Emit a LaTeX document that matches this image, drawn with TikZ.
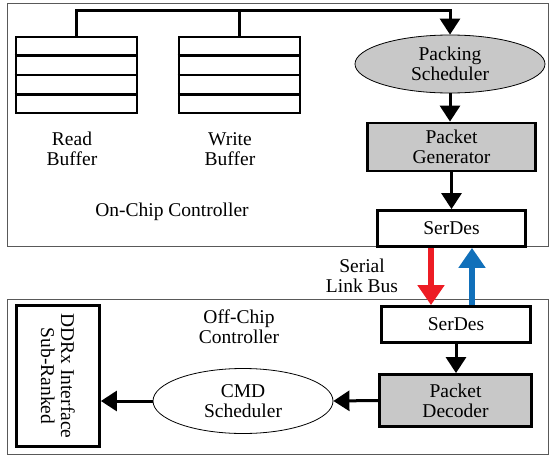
\documentclass[tikz,border=0pt]{standalone}
\usepackage{fontspec}
\setmainfont{Liberation Serif}
\usetikzlibrary{arrows.meta,shapes.geometric,calc}
\definecolor{boxgray}{HTML}{C8C8C8}
\definecolor{busred}{HTML}{ED1C24}
\definecolor{busblue}{HTML}{1170BA}
\begin{document}
\begin{tikzpicture}[x=1pt,y=-1pt,
  every node/.style={font=\fontsize{19.5}{20}\selectfont, align=center, inner sep=0pt},
  container/.style={draw=black!65, line width=1pt},
  blk/.style={draw=black, line width=2.8pt, rectangle},
  buf/.style={draw=black, line width=2.8pt, rectangle, minimum width=121pt, minimum height=76pt},
  ell/.style={ellipse, draw=black, line width=0.8pt},
  arr/.style={line width=3pt, -{Triangle[width=20pt,length=16pt]}},
  busarr/.style={line width=5.5pt, -{Triangle[width=26pt,length=20pt]}}
]
\useasboundingbox (0,0) rectangle (549,458);
% containers
\draw[container] (7,3) rectangle (548,246);
\draw[container] (7,299) rectangle (548,454);

% buffers
\node[buf] (rb) at (76.5,75) {};
\node[buf] (wb) at (239.5,75) {};
\foreach \b in {rb,wb}
  \foreach \f in {0.25,0.5,0.75}
    \draw[line width=2.8pt] ($(\b.north west)!\f!(\b.south west)$) -- ($(\b.north east)!\f!(\b.south east)$);
\node (rbl) at (72,149) {Read\\Buffer};
\node (wbl) at (230,149) {Write\\Buffer};
\node (onl) at (172,212) {On-Chip Controller};

% right column, on-chip
\node[ell, fill=boxgray, minimum width=190pt, minimum height=58pt] (ps) at (450,64) {Packing\\Scheduler};
\node[blk, fill=boxgray, minimum width=168pt, minimum height=48pt] (pg) at (451.5,147) {Packet\\Generator};
\node[blk, minimum width=148pt, minimum height=36pt] (sa) at (451.5,228.5) {SerDes};

% off-chip
\node[blk, minimum width=149pt, minimum height=36pt] (sb) at (456,324.5) {SerDes};
\node[blk, fill=boxgray, minimum width=152pt, minimum height=52pt] (pd) at (455.5,400.5) {Packet\\Decoder};
\node[ell, minimum width=180pt, minimum height=65pt] (cmd) at (243,401) {CMD\\Scheduler};
\node[blk, rotate=-90, minimum width=141pt, minimum height=83pt] (ddr) at (58,376) {DDRx Interface\\Sub-Ranked};
\node (bus) at (362,276) {Serial\\Link Bus};
\node (offl) at (239,327) {Off-Chip\\Controller};

% connectors
\draw[arr] (rb.north) -- ++(0,-25) -| (ps.north);
\draw[line width=3pt] (wb.north) -- ++(0,-25);
\draw[arr] (ps.south) -- (ps.south |- pg.north);
\draw[arr] (pg.south) -- (sa.north);
\draw[busarr, busred] ([xshift=-20.5pt]sa.south) -- ([xshift=-20.5pt]sa.south |- sb.north);
\draw[busarr, busblue] ([xshift=20.5pt]sa.south |- sb.north) -- ([xshift=20.5pt]sa.south);
\draw[arr] (sb.south) -- (sb.south |- pd.north);
\draw[arr] (pd.west) -- (cmd.east);
\draw[arr] (cmd.west) -- (cmd.west -| ddr.north);
\end{tikzpicture}
\end{document}
